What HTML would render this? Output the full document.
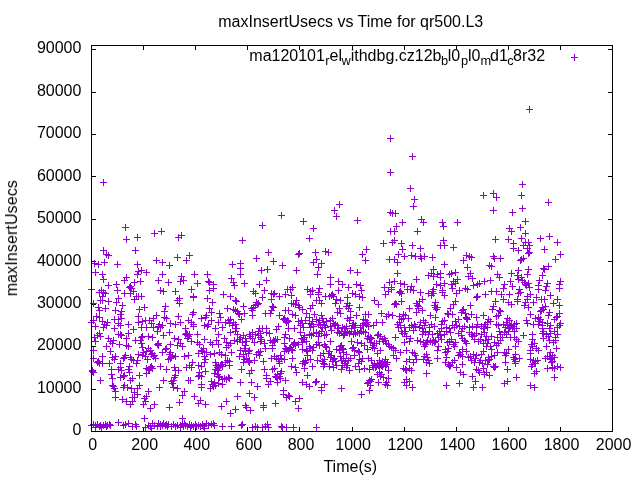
<!DOCTYPE html>
<html><head><meta charset="utf-8"><title>maxInsertUsecs vs Time for qr500.L3</title>
<style>
html,body{margin:0;padding:0;background:#fff;}
svg{display:block;}
text{font-family:"Liberation Sans",sans-serif;font-size:16px;fill:#000;}
</style></head><body>
<svg width="640" height="480" viewBox="0 0 640 480">
<rect x="0" y="0" width="640" height="480" fill="#fff"/>
<g id="labels" style="opacity:0.999">
<text x="350.75" y="27" text-anchor="middle">maxInsertUsecs vs Time for qr500.L3</text>
<text x="350.25" y="472" text-anchor="middle">Time(s)</text>
<text transform="translate(17,238.25) rotate(-90)" text-anchor="middle" textLength="116.2" lengthAdjust="spacing">maxInsertUsecs</text>
<text><tspan x="249.3" y="61">ma120101</tspan><tspan x="325.2" y="65.4" font-size="12.8">r</tspan><tspan x="329.5" y="61">el</tspan><tspan x="341.45" y="65.4" font-size="12.8">w</tspan><tspan x="350.7" y="61">ithdbg.cz12b</tspan><tspan x="440.9" y="65.4" font-size="12.8">b</tspan><tspan x="447.8" y="61">l0</tspan><tspan x="461.0" y="65.4" font-size="12.8">p</tspan><tspan x="467.9" y="61">l0</tspan><tspan x="480.6" y="65.4" font-size="12.8">m</tspan><tspan x="490.0" y="61">d1</tspan><tspan x="507.3" y="65.4" font-size="12.8">c</tspan><tspan x="513.0" y="61">8r32</tspan></text>
<text x="92.6" y="450.25" text-anchor="middle">0</text><text x="144.7" y="450.25" text-anchor="middle">200</text><text x="196.8" y="450.25" text-anchor="middle">400</text><text x="248.9" y="450.25" text-anchor="middle">600</text><text x="301.0" y="450.25" text-anchor="middle">800</text><text x="353.1" y="450.25" text-anchor="middle">1000</text><text x="405.2" y="450.25" text-anchor="middle">1200</text><text x="457.3" y="450.25" text-anchor="middle">1400</text><text x="509.4" y="450.25" text-anchor="middle">1600</text><text x="561.5" y="450.25" text-anchor="middle">1800</text><text x="613.6" y="450.25" text-anchor="middle">2000</text>
<text x="81.4" y="435.2" text-anchor="end">0</text><text x="81.4" y="392.8" text-anchor="end">10000</text><text x="81.4" y="350.4" text-anchor="end">20000</text><text x="81.4" y="307.9" text-anchor="end">30000</text><text x="81.4" y="265.5" text-anchor="end">40000</text><text x="81.4" y="223.1" text-anchor="end">50000</text><text x="81.4" y="180.6" text-anchor="end">60000</text><text x="81.4" y="138.2" text-anchor="end">70000</text><text x="81.4" y="95.7" text-anchor="end">80000</text><text x="81.4" y="53.3" text-anchor="end">90000</text>
</g>
<path d="M91.5 432v-5M91.5 45v5M143.5 432v-5M143.5 45v5M195.5 432v-5M195.5 45v5M247.5 432v-5M247.5 45v5M299.5 432v-5M299.5 45v5M352.5 432v-5M352.5 45v5M404.5 432v-5M404.5 45v5M456.5 432v-5M456.5 45v5M508.5 432v-5M508.5 45v5M560.5 432v-5M560.5 45v5M612.5 432v-5M612.5 45v5M91 431.5h5M613 431.5h-5M91 389.5h5M613 389.5h-5M91 346.5h5M613 346.5h-5M91 304.5h5M613 304.5h-5M91 261.5h5M613 261.5h-5M91 219.5h5M613 219.5h-5M91 176.5h5M613 176.5h-5M91 134.5h5M613 134.5h-5M91 92.5h5M613 92.5h-5M91 49.5h5M613 49.5h-5" stroke="#000" stroke-width="1" fill="none" shape-rendering="crispEdges"/>
<path id="pts" d="M571 57.5h7M574.5 54v7M100 182.5h7M103.5 179v7M122 227.5h7M125.5 224v7M123 239.5h7M126.5 236v7M134 237.5h7M137.5 234v7M151 233.5h7M154.5 230v7M158 231.5h7M161.5 228v7M175 237.5h7M178.5 234v7M178 235.5h7M181.5 232v7M239 240.5h7M242.5 237v7M100 250.5h7M103.5 247v7M103 254.5h7M106.5 251v7M105 255.5h7M108.5 252v7M132 250.5h7M135.5 247v7M174 257.5h7M177.5 254v7M186 255.5h7M189.5 252v7M183 260.5h7M186.5 257v7M91 263.5h7M94.5 260v7M95 264.5h7M98.5 261v7M101 262.5h7M104.5 259v7M114 264.5h7M117.5 261v7M134 264.5h7M137.5 261v7M153 260.5h7M156.5 257v7M159 262.5h7M162.5 259v7M166 265.5h7M169.5 262v7M229 264.5h7M232.5 261v7M237 263.5h7M240.5 260v7M237 268.5h7M240.5 265v7M387 138.5h7M390.5 135v7M387 172.5h7M390.5 169v7M526 109.5h7M529.5 106v7M409 156.5h7M412.5 153v7M336 204.5h7M339.5 201v7M331 210.5h7M334.5 207v7M333 216.5h7M336.5 213v7M278 215.5h7M281.5 212v7M300 221.5h7M303.5 218v7M354 220.5h7M357.5 217v7M259 225.5h7M262.5 222v7M310 228.5h7M313.5 225v7M306 238.5h7M309.5 235v7M387 212.5h7M390.5 209v7M389 213.5h7M392.5 210v7M392 213.5h7M395.5 210v7M399 222.5h7M402.5 219v7M393 226.5h7M396.5 223v7M387 231.5h7M390.5 228v7M391 231.5h7M394.5 228v7M380 243.5h7M383.5 240v7M389 242.5h7M392.5 239v7M391 240.5h7M394.5 237v7M398 243.5h7M401.5 240v7M399 249.5h7M402.5 246v7M363 249.5h7M366.5 246v7M359 254.5h7M362.5 251v7M362 260.5h7M365.5 257v7M265 252.5h7M268.5 249v7M253 258.5h7M256.5 255v7M270 261.5h7M273.5 258v7M279 265.5h7M282.5 262v7M295 254.5h7M298.5 251v7M296 253.5h7M299.5 250v7M312 252.5h7M315.5 249v7M322 251.5h7M325.5 248v7M325 252.5h7M328.5 249v7M313 259.5h7M316.5 256v7M310 262.5h7M313.5 259v7M318 263.5h7M321.5 260v7M315 267.5h7M318.5 264v7M395 254.5h7M398.5 251v7M401 256.5h7M404.5 253v7M386 259.5h7M389.5 256v7M391 259.5h7M394.5 256v7M394 262.5h7M397.5 259v7M264 269.5h7M267.5 266v7M407 188.5h7M410.5 185v7M411 199.5h7M414.5 196v7M410 206.5h7M413.5 203v7M519 184.5h7M522.5 181v7M480 195.5h7M483.5 192v7M490 193.5h7M493.5 190v7M493 197.5h7M496.5 194v7M518 195.5h7M521.5 192v7M545 202.5h7M548.5 199v7M490 210.5h7M493.5 207v7M519 208.5h7M522.5 205v7M509 212.5h7M512.5 209v7M418 219.5h7M421.5 216v7M420 222.5h7M423.5 219v7M439 222.5h7M442.5 219v7M440 226.5h7M443.5 223v7M454 222.5h7M457.5 219v7M414 231.5h7M417.5 228v7M522 221.5h7M525.5 218v7M506 228.5h7M509.5 225v7M508 231.5h7M511.5 228v7M517 227.5h7M520.5 224v7M522 233.5h7M525.5 230v7M409 245.5h7M412.5 242v7M417 248.5h7M420.5 245v7M440 240.5h7M443.5 237v7M437 245.5h7M440.5 242v7M441 245.5h7M444.5 242v7M450 247.5h7M453.5 244v7M408 255.5h7M411.5 252v7M412 256.5h7M415.5 253v7M417 256.5h7M420.5 253v7M418 258.5h7M421.5 255v7M421 256.5h7M424.5 253v7M429 257.5h7M432.5 254v7M463 255.5h7M466.5 252v7M466 256.5h7M469.5 253v7M468 257.5h7M471.5 254v7M460 260.5h7M463.5 257v7M441 264.5h7M444.5 261v7M464 267.5h7M467.5 264v7M430 269.5h7M433.5 266v7M492 239.5h7M495.5 236v7M505 239.5h7M508.5 236v7M518 238.5h7M521.5 235v7M537 238.5h7M540.5 235v7M546 236.5h7M549.5 233v7M554 242.5h7M557.5 239v7M510 243.5h7M513.5 240v7M522 242.5h7M525.5 239v7M525 242.5h7M528.5 239v7M520 245.5h7M523.5 242v7M526 245.5h7M529.5 242v7M524 248.5h7M527.5 245v7M510 248.5h7M513.5 245v7M515 250.5h7M518.5 247v7M541 249.5h7M544.5 246v7M525 253.5h7M528.5 250v7M526 252.5h7M529.5 249v7M557 254.5h7M560.5 251v7M490 256.5h7M493.5 253v7M491 258.5h7M494.5 255v7M497 258.5h7M500.5 255v7M552 259.5h7M555.5 256v7M520 258.5h7M523.5 255v7M518 259.5h7M521.5 256v7M517 260.5h7M520.5 257v7M486 265.5h7M489.5 262v7M488 266.5h7M491.5 263v7M545 266.5h7M548.5 263v7M540 268.5h7M543.5 265v7M541 269.5h7M544.5 266v7M525 269.5h7M528.5 266v7M92 272.5h7M95.5 269v7M99 274.5h7M102.5 271v7M135 271.5h7M138.5 268v7M138 270.5h7M141.5 267v7M143 272.5h7M146.5 269v7M134 274.5h7M137.5 271v7M159 274.5h7M162.5 271v7M165 282.5h7M168.5 279v7M100 279.5h7M103.5 276v7M123 277.5h7M126.5 274v7M121 280.5h7M124.5 277v7M131 282.5h7M134.5 279v7M137 281.5h7M140.5 278v7M155 280.5h7M158.5 277v7M105 285.5h7M108.5 282v7M113 284.5h7M116.5 281v7M127 286.5h7M130.5 283v7M126 287.5h7M129.5 284v7M128 288.5h7M131.5 285v7M88 289.5h7M91.5 286v7M114 290.5h7M117.5 287v7M98 290.5h7M101.5 287v7M96 292.5h7M99.5 289v7M100 292.5h7M103.5 289v7M102 293.5h7M105.5 290v7M121 293.5h7M124.5 290v7M130 291.5h7M133.5 288v7M127 293.5h7M130.5 290v7M157 290.5h7M160.5 287v7M160 291.5h7M163.5 288v7M133 296.5h7M136.5 293v7M135 296.5h7M138.5 293v7M138 296.5h7M141.5 293v7M131 299.5h7M134.5 296v7M99 296.5h7M102.5 293v7M115 298.5h7M118.5 295v7M97 300.5h7M100.5 297v7M99 300.5h7M102.5 297v7M105 301.5h7M108.5 298v7M113 302.5h7M116.5 299v7M90 303.5h7M93.5 300v7M119 305.5h7M122.5 302v7M95 307.5h7M98.5 304v7M102 308.5h7M105.5 305v7M141 307.5h7M144.5 304v7M136 309.5h7M139.5 306v7M162 306.5h7M165.5 303v7M112 310.5h7M115.5 307v7M96 310.5h7M99.5 307v7M118 311.5h7M121.5 308v7M161 311.5h7M164.5 308v7M117 314.5h7M120.5 311v7M93 316.5h7M96.5 313v7M96 317.5h7M99.5 314v7M153 315.5h7M156.5 312v7M135 316.5h7M138.5 313v7M150 318.5h7M153.5 315v7M161 317.5h7M164.5 314v7M163 318.5h7M166.5 315v7M118 318.5h7M121.5 315v7M111 319.5h7M114.5 316v7M115 319.5h7M118.5 316v7M90 320.5h7M93.5 317v7M142 320.5h7M145.5 317v7M146 320.5h7M149.5 317v7M139 321.5h7M142.5 318v7M135 322.5h7M138.5 319v7M99 321.5h7M102.5 318v7M104 322.5h7M107.5 319v7M88 322.5h7M91.5 319v7M92 326.5h7M95.5 323v7M101 324.5h7M104.5 321v7M103 325.5h7M106.5 322v7M100 327.5h7M103.5 324v7M115 323.5h7M118.5 320v7M117 325.5h7M120.5 322v7M125 324.5h7M128.5 321v7M111 328.5h7M114.5 325v7M148 323.5h7M151.5 320v7M156 324.5h7M159.5 321v7M155 326.5h7M158.5 323v7M157 327.5h7M160.5 324v7M159 325.5h7M162.5 322v7M143 327.5h7M146.5 324v7M138 327.5h7M141.5 324v7M150 327.5h7M153.5 324v7M130 329.5h7M133.5 326v7M178 276.5h7M181.5 273v7M191 274.5h7M194.5 271v7M204 274.5h7M207.5 271v7M237 274.5h7M240.5 271v7M228 278.5h7M231.5 275v7M180 280.5h7M183.5 277v7M177 281.5h7M180.5 278v7M194 283.5h7M197.5 280v7M205 281.5h7M208.5 278v7M206 282.5h7M209.5 279v7M210 284.5h7M213.5 281v7M241 283.5h7M244.5 280v7M230 282.5h7M233.5 279v7M231 285.5h7M234.5 282v7M172 291.5h7M175.5 288v7M188 289.5h7M191.5 286v7M210 288.5h7M213.5 285v7M206 290.5h7M209.5 287v7M220 294.5h7M223.5 291v7M190 296.5h7M193.5 293v7M190 297.5h7M193.5 294v7M176 298.5h7M179.5 295v7M174 300.5h7M177.5 297v7M176 303.5h7M179.5 300v7M204 298.5h7M207.5 295v7M227 296.5h7M230.5 293v7M209 302.5h7M212.5 299v7M232 300.5h7M235.5 297v7M233 301.5h7M236.5 298v7M206 308.5h7M209.5 305v7M224 308.5h7M227.5 305v7M240 306.5h7M243.5 303v7M230 309.5h7M233.5 306v7M232 310.5h7M235.5 307v7M234 311.5h7M237.5 308v7M190 312.5h7M193.5 309v7M189 314.5h7M192.5 311v7M208 312.5h7M211.5 309v7M216 313.5h7M219.5 310v7M175 316.5h7M178.5 313v7M203 315.5h7M206.5 312v7M202 317.5h7M205.5 314v7M198 318.5h7M201.5 315v7M217 317.5h7M220.5 314v7M236 314.5h7M239.5 311v7M241 313.5h7M244.5 310v7M235 313.5h7M238.5 310v7M208 320.5h7M211.5 317v7M238 319.5h7M241.5 316v7M227 319.5h7M230.5 316v7M225 320.5h7M228.5 317v7M185 320.5h7M188.5 317v7M167 323.5h7M170.5 320v7M172 324.5h7M175.5 321v7M177 322.5h7M180.5 319v7M188 322.5h7M191.5 319v7M190 324.5h7M193.5 321v7M190 326.5h7M193.5 323v7M182 328.5h7M185.5 325v7M201 325.5h7M204.5 322v7M205 324.5h7M208.5 321v7M204 326.5h7M207.5 323v7M215 322.5h7M218.5 319v7M222 322.5h7M225.5 319v7M226 323.5h7M229.5 320v7M230 322.5h7M233.5 319v7M229 325.5h7M232.5 322v7M232 324.5h7M235.5 321v7M219 327.5h7M222.5 324v7M233 328.5h7M236.5 325v7M212 328.5h7M215.5 325v7M258 270.5h7M261.5 267v7M293 270.5h7M296.5 267v7M314 274.5h7M317.5 271v7M263 280.5h7M266.5 277v7M256 284.5h7M259.5 281v7M250 291.5h7M253.5 288v7M261 290.5h7M264.5 287v7M252 293.5h7M255.5 290v7M268 293.5h7M271.5 290v7M270 294.5h7M273.5 291v7M271 293.5h7M274.5 290v7M289 287.5h7M292.5 284v7M284 289.5h7M287.5 286v7M287 289.5h7M290.5 286v7M288 295.5h7M291.5 292v7M282 294.5h7M285.5 291v7M304 289.5h7M307.5 286v7M307 291.5h7M310.5 288v7M309 290.5h7M312.5 287v7M316 288.5h7M319.5 285v7M315 292.5h7M318.5 289v7M307 294.5h7M310.5 291v7M315 294.5h7M318.5 291v7M322 296.5h7M325.5 293v7M259 297.5h7M262.5 294v7M276 296.5h7M279.5 293v7M268 299.5h7M271.5 296v7M253 302.5h7M256.5 299v7M254 304.5h7M257.5 301v7M293 300.5h7M296.5 297v7M288 303.5h7M291.5 300v7M290 303.5h7M293.5 300v7M292 304.5h7M295.5 301v7M295 305.5h7M298.5 302v7M316 300.5h7M319.5 297v7M313 300.5h7M316.5 297v7M318 303.5h7M321.5 300v7M309 305.5h7M312.5 302v7M269 306.5h7M272.5 303v7M270 307.5h7M273.5 304v7M250 307.5h7M253.5 304v7M249 310.5h7M252.5 307v7M268 310.5h7M271.5 307v7M282 310.5h7M285.5 307v7M285 310.5h7M288.5 307v7M296 307.5h7M299.5 304v7M299 309.5h7M302.5 306v7M307 308.5h7M310.5 305v7M262 313.5h7M265.5 310v7M267 313.5h7M270.5 310v7M249 315.5h7M252.5 312v7M276 315.5h7M279.5 312v7M289 314.5h7M292.5 311v7M292 315.5h7M295.5 312v7M303 313.5h7M306.5 310v7M311 314.5h7M314.5 311v7M318 315.5h7M321.5 312v7M306 317.5h7M309.5 314v7M280 319.5h7M283.5 316v7M282 320.5h7M285.5 317v7M285 321.5h7M288.5 318v7M295 321.5h7M298.5 318v7M298 320.5h7M301.5 317v7M299 323.5h7M302.5 320v7M313 319.5h7M316.5 316v7M316 320.5h7M319.5 317v7M319 318.5h7M322.5 315v7M320 322.5h7M323.5 319v7M306 323.5h7M309.5 320v7M308 324.5h7M311.5 321v7M310 326.5h7M313.5 323v7M275 326.5h7M278.5 323v7M256 328.5h7M259.5 325v7M263 328.5h7M266.5 325v7M285 328.5h7M288.5 325v7M291 328.5h7M294.5 325v7M300 327.5h7M303.5 324v7M317 325.5h7M320.5 322v7M273 329.5h7M276.5 326v7M322 327.5h7M325.5 324v7M347 270.5h7M350.5 267v7M354 272.5h7M357.5 269v7M394 273.5h7M397.5 270v7M327 277.5h7M330.5 274v7M335 281.5h7M338.5 278v7M339 284.5h7M342.5 281v7M353 284.5h7M356.5 281v7M357 285.5h7M360.5 282v7M386 282.5h7M389.5 279v7M391 281.5h7M394.5 278v7M397 283.5h7M400.5 280v7M401 284.5h7M404.5 281v7M327 284.5h7M330.5 281v7M345 287.5h7M348.5 284v7M381 287.5h7M384.5 284v7M388 287.5h7M391.5 284v7M335 290.5h7M338.5 287v7M358 290.5h7M361.5 287v7M349 293.5h7M352.5 290v7M352 294.5h7M355.5 291v7M329 294.5h7M332.5 291v7M326 296.5h7M329.5 293v7M385 291.5h7M388.5 288v7M388 289.5h7M391.5 286v7M382 294.5h7M385.5 291v7M397 291.5h7M400.5 288v7M398 293.5h7M401.5 290v7M396 292.5h7M399.5 289v7M404 289.5h7M407.5 286v7M344 297.5h7M347.5 294v7M356 296.5h7M359.5 293v7M359 297.5h7M362.5 294v7M333 299.5h7M336.5 296v7M337 300.5h7M340.5 297v7M332 303.5h7M335.5 300v7M371 300.5h7M374.5 297v7M375 304.5h7M378.5 301v7M398 301.5h7M401.5 298v7M392 303.5h7M395.5 300v7M393 304.5h7M396.5 301v7M391 304.5h7M394.5 301v7M344 303.5h7M347.5 300v7M343 306.5h7M346.5 303v7M345 308.5h7M348.5 305v7M356 307.5h7M359.5 304v7M336 308.5h7M339.5 305v7M334 312.5h7M337.5 309v7M337 313.5h7M340.5 310v7M347 311.5h7M350.5 308v7M365 314.5h7M368.5 311v7M362 314.5h7M365.5 311v7M378 313.5h7M381.5 310v7M353 315.5h7M356.5 312v7M385 314.5h7M388.5 311v7M389 315.5h7M392.5 312v7M383 316.5h7M386.5 313v7M396 316.5h7M399.5 313v7M402 315.5h7M405.5 312v7M400 318.5h7M403.5 315v7M329 318.5h7M332.5 315v7M327 320.5h7M330.5 317v7M344 318.5h7M347.5 315v7M346 320.5h7M349.5 317v7M360 319.5h7M363.5 316v7M362 320.5h7M365.5 317v7M373 322.5h7M376.5 319v7M379 322.5h7M382.5 319v7M330 323.5h7M333.5 320v7M332 324.5h7M335.5 321v7M334 325.5h7M337.5 322v7M327 326.5h7M330.5 323v7M343 326.5h7M346.5 323v7M350 323.5h7M353.5 320v7M352 325.5h7M355.5 322v7M360 323.5h7M363.5 320v7M363 324.5h7M366.5 321v7M365 326.5h7M368.5 323v7M357 327.5h7M360.5 324v7M370 325.5h7M373.5 322v7M394 324.5h7M397.5 321v7M396 322.5h7M399.5 319v7M395 327.5h7M398.5 324v7M401 327.5h7M404.5 324v7M348 328.5h7M351.5 325v7M341 328.5h7M344.5 325v7M425 275.5h7M428.5 272v7M428 273.5h7M431.5 270v7M430 276.5h7M433.5 273v7M434 274.5h7M437.5 271v7M437 273.5h7M440.5 270v7M437 277.5h7M440.5 274v7M446 274.5h7M449.5 271v7M448 273.5h7M451.5 270v7M452 272.5h7M455.5 269v7M467 273.5h7M470.5 270v7M465 276.5h7M468.5 273v7M469 278.5h7M472.5 275v7M413 279.5h7M416.5 276v7M454 279.5h7M457.5 276v7M450 281.5h7M453.5 278v7M448 284.5h7M451.5 281v7M452 283.5h7M455.5 280v7M441 283.5h7M444.5 280v7M433 284.5h7M436.5 281v7M437 285.5h7M440.5 282v7M408 286.5h7M411.5 283v7M470 285.5h7M473.5 282v7M474 284.5h7M477.5 281v7M476 283.5h7M479.5 280v7M481 281.5h7M484.5 278v7M449 288.5h7M452.5 285v7M462 288.5h7M465.5 285v7M464 289.5h7M467.5 286v7M407 289.5h7M410.5 286v7M410 290.5h7M413.5 287v7M417 292.5h7M420.5 289v7M430 289.5h7M433.5 286v7M425 293.5h7M428.5 290v7M428 295.5h7M431.5 292v7M430 293.5h7M433.5 290v7M439 290.5h7M442.5 287v7M439 292.5h7M442.5 289v7M441 295.5h7M444.5 292v7M453 293.5h7M456.5 290v7M456 290.5h7M459.5 287v7M482 294.5h7M485.5 291v7M473 297.5h7M476.5 294v7M474 296.5h7M477.5 293v7M419 299.5h7M422.5 296v7M416 301.5h7M419.5 298v7M413 303.5h7M416.5 300v7M414 305.5h7M417.5 302v7M432 302.5h7M435.5 299v7M431 305.5h7M434.5 302v7M452 301.5h7M455.5 298v7M450 304.5h7M453.5 301v7M467 305.5h7M470.5 302v7M434 307.5h7M437.5 304v7M433 309.5h7M436.5 306v7M406 308.5h7M409.5 305v7M415 308.5h7M418.5 305v7M419 310.5h7M422.5 307v7M413 312.5h7M416.5 309v7M447 308.5h7M450.5 305v7M460 309.5h7M463.5 306v7M458 312.5h7M461.5 309v7M462 313.5h7M465.5 310v7M445 314.5h7M448.5 311v7M449 314.5h7M452.5 311v7M427 315.5h7M430.5 312v7M432 317.5h7M435.5 314v7M468 314.5h7M471.5 311v7M473 317.5h7M476.5 314v7M480 315.5h7M483.5 312v7M463 317.5h7M466.5 314v7M464 319.5h7M467.5 316v7M405 318.5h7M408.5 315v7M455 319.5h7M458.5 316v7M452 321.5h7M455.5 318v7M420 320.5h7M423.5 317v7M422 322.5h7M425.5 319v7M417 322.5h7M420.5 319v7M439 321.5h7M442.5 318v7M441 320.5h7M444.5 317v7M438 324.5h7M441.5 321v7M408 325.5h7M411.5 322v7M412 326.5h7M415.5 323v7M411 324.5h7M414.5 321v7M416 327.5h7M419.5 324v7M421 325.5h7M424.5 322v7M428 324.5h7M431.5 321v7M426 327.5h7M429.5 324v7M443 327.5h7M446.5 324v7M438 328.5h7M441.5 325v7M449 325.5h7M452.5 322v7M451 327.5h7M454.5 324v7M456 326.5h7M459.5 323v7M459 328.5h7M462.5 325v7M474 324.5h7M477.5 321v7M466 327.5h7M469.5 324v7M473 327.5h7M476.5 324v7M478 326.5h7M481.5 323v7M482 324.5h7M485.5 321v7M480 328.5h7M483.5 325v7M484 322.5h7M487.5 319v7M494 274.5h7M497.5 271v7M496 277.5h7M499.5 274v7M508 273.5h7M511.5 270v7M515 270.5h7M518.5 267v7M514 275.5h7M517.5 272v7M518 277.5h7M521.5 274v7M524 274.5h7M527.5 271v7M539 275.5h7M542.5 272v7M487 280.5h7M490.5 277v7M507 281.5h7M510.5 278v7M515 279.5h7M518.5 276v7M501 284.5h7M504.5 281v7M509 286.5h7M512.5 283v7M521 282.5h7M524.5 279v7M525 283.5h7M528.5 280v7M523 285.5h7M526.5 282v7M536 280.5h7M539.5 277v7M535 285.5h7M538.5 282v7M544 283.5h7M547.5 280v7M543 286.5h7M546.5 283v7M557 281.5h7M560.5 278v7M556 284.5h7M559.5 281v7M556 288.5h7M559.5 285v7M500 288.5h7M503.5 285v7M488 291.5h7M491.5 288v7M493 291.5h7M496.5 288v7M498 294.5h7M501.5 291v7M506 294.5h7M509.5 291v7M516 289.5h7M519.5 286v7M515 293.5h7M518.5 290v7M517 292.5h7M520.5 289v7M526 287.5h7M529.5 284v7M535 289.5h7M538.5 286v7M542 290.5h7M545.5 287v7M527 294.5h7M530.5 291v7M524 296.5h7M527.5 293v7M547 295.5h7M550.5 292v7M533 297.5h7M536.5 294v7M500 299.5h7M503.5 296v7M492 301.5h7M495.5 298v7M505 302.5h7M508.5 299v7M508 304.5h7M511.5 301v7M514 299.5h7M517.5 296v7M514 301.5h7M517.5 298v7M524 299.5h7M527.5 296v7M522 302.5h7M525.5 299v7M521 305.5h7M524.5 302v7M530 302.5h7M533.5 299v7M538 299.5h7M541.5 296v7M541 299.5h7M544.5 296v7M554 299.5h7M557.5 296v7M550 303.5h7M553.5 300v7M556 305.5h7M559.5 302v7M542 306.5h7M545.5 303v7M490 306.5h7M493.5 303v7M489 309.5h7M492.5 306v7M496 310.5h7M499.5 307v7M497 311.5h7M500.5 308v7M525 307.5h7M528.5 304v7M540 309.5h7M543.5 306v7M537 311.5h7M540.5 308v7M527 314.5h7M530.5 311v7M495 315.5h7M498.5 312v7M546 312.5h7M549.5 309v7M545 315.5h7M548.5 312v7M556 313.5h7M559.5 310v7M554 316.5h7M557.5 313v7M493 316.5h7M496.5 313v7M504 318.5h7M507.5 315v7M506 320.5h7M509.5 317v7M487 321.5h7M490.5 318v7M535 317.5h7M538.5 314v7M532 318.5h7M535.5 315v7M537 319.5h7M540.5 316v7M536 321.5h7M539.5 318v7M523 320.5h7M526.5 317v7M551 319.5h7M554.5 316v7M553 317.5h7M556.5 314v7M513 323.5h7M516.5 320v7M503 322.5h7M506.5 319v7M493 324.5h7M496.5 321v7M495 325.5h7M498.5 322v7M500 324.5h7M503.5 321v7M504 325.5h7M507.5 322v7M508 324.5h7M511.5 321v7M510 326.5h7M513.5 323v7M502 327.5h7M505.5 324v7M506 328.5h7M509.5 325v7M524 323.5h7M527.5 320v7M530 324.5h7M533.5 321v7M535 324.5h7M538.5 321v7M539 325.5h7M542.5 322v7M544 323.5h7M547.5 320v7M547 325.5h7M550.5 322v7M556 325.5h7M559.5 322v7M546 328.5h7M549.5 325v7M539 328.5h7M542.5 325v7M513 328.5h7M516.5 325v7M96 333.5h7M99.5 330v7M94 335.5h7M97.5 332v7M91 337.5h7M94.5 334v7M115 334.5h7M118.5 331v7M118 335.5h7M121.5 332v7M125 333.5h7M128.5 330v7M123 338.5h7M126.5 335v7M139 336.5h7M142.5 333v7M145 336.5h7M148.5 333v7M149 337.5h7M152.5 334v7M154 331.5h7M157.5 328v7M160 335.5h7M163.5 332v7M105 338.5h7M108.5 335v7M92 341.5h7M95.5 338v7M107 341.5h7M110.5 338v7M109 343.5h7M112.5 340v7M103 346.5h7M106.5 343v7M116 344.5h7M119.5 341v7M123 345.5h7M126.5 342v7M125 346.5h7M128.5 343v7M132 340.5h7M135.5 337v7M137 340.5h7M140.5 337v7M138 343.5h7M141.5 340v7M139 347.5h7M142.5 344v7M155 343.5h7M158.5 340v7M155 345.5h7M158.5 342v7M163 348.5h7M166.5 345v7M145 348.5h7M148.5 345v7M90 350.5h7M93.5 347v7M107 351.5h7M110.5 348v7M99 356.5h7M102.5 353v7M143 351.5h7M146.5 348v7M147 350.5h7M150.5 347v7M149 353.5h7M152.5 350v7M151 355.5h7M154.5 352v7M159 352.5h7M162.5 349v7M135 354.5h7M138.5 351v7M139 355.5h7M142.5 352v7M142 356.5h7M145.5 353v7M122 355.5h7M125.5 352v7M127 357.5h7M130.5 354v7M90 358.5h7M93.5 355v7M109 357.5h7M112.5 354v7M111 359.5h7M114.5 356v7M120 358.5h7M123.5 355v7M130 360.5h7M133.5 357v7M134 360.5h7M137.5 357v7M144 359.5h7M147.5 356v7M152 358.5h7M155.5 355v7M94 362.5h7M97.5 359v7M96 363.5h7M99.5 360v7M99 363.5h7M102.5 360v7M106 363.5h7M109.5 360v7M117 363.5h7M120.5 360v7M133 363.5h7M136.5 360v7M117 367.5h7M120.5 364v7M126 366.5h7M129.5 363v7M125 369.5h7M128.5 366v7M115 369.5h7M118.5 366v7M108 369.5h7M111.5 366v7M89 370.5h7M92.5 367v7M90 372.5h7M93.5 369v7M143 368.5h7M146.5 365v7M148 366.5h7M151.5 363v7M149 368.5h7M152.5 365v7M146 370.5h7M149.5 367v7M157 366.5h7M160.5 363v7M163 369.5h7M166.5 366v7M126 372.5h7M129.5 369v7M108 374.5h7M111.5 371v7M121 375.5h7M124.5 372v7M117 377.5h7M120.5 374v7M109 378.5h7M112.5 375v7M97 380.5h7M100.5 377v7M129 378.5h7M132.5 375v7M127 380.5h7M130.5 377v7M136 375.5h7M139.5 372v7M143 373.5h7M146.5 370v7M160 380.5h7M163.5 377v7M109 385.5h7M112.5 382v7M111 388.5h7M114.5 385v7M120 387.5h7M123.5 384v7M124 387.5h7M127.5 384v7M121 385.5h7M124.5 382v7M136 385.5h7M139.5 382v7M134 388.5h7M137.5 385v7M156 387.5h7M159.5 384v7M128 388.5h7M131.5 385v7M166 332.5h7M169.5 329v7M182 334.5h7M185.5 331v7M184 335.5h7M187.5 332v7M186 334.5h7M189.5 331v7M194 334.5h7M197.5 331v7M184 338.5h7M187.5 335v7M171 338.5h7M174.5 335v7M175 339.5h7M178.5 336v7M215 334.5h7M218.5 331v7M227 332.5h7M230.5 329v7M232 331.5h7M235.5 328v7M234 334.5h7M237.5 331v7M221 338.5h7M224.5 335v7M201 339.5h7M204.5 336v7M237 337.5h7M240.5 334v7M242 338.5h7M245.5 335v7M167 344.5h7M170.5 341v7M174 345.5h7M177.5 342v7M177 343.5h7M180.5 340v7M179 346.5h7M182.5 343v7M188 341.5h7M191.5 338v7M194 342.5h7M197.5 339v7M196 344.5h7M199.5 341v7M207 342.5h7M210.5 339v7M209 344.5h7M212.5 341v7M215 344.5h7M218.5 341v7M213 340.5h7M216.5 337v7M223 342.5h7M226.5 339v7M227 343.5h7M230.5 340v7M231 340.5h7M234.5 337v7M234 341.5h7M237.5 338v7M239 342.5h7M242.5 339v7M242 345.5h7M245.5 342v7M200 348.5h7M203.5 345v7M223 347.5h7M226.5 344v7M167 352.5h7M170.5 349v7M169 355.5h7M172.5 352v7M172 356.5h7M175.5 353v7M181 356.5h7M184.5 353v7M185 355.5h7M188.5 352v7M195 353.5h7M198.5 350v7M199 351.5h7M202.5 348v7M203 352.5h7M206.5 349v7M207 354.5h7M210.5 351v7M211 353.5h7M214.5 350v7M216 352.5h7M219.5 349v7M218 354.5h7M221.5 351v7M222 355.5h7M225.5 352v7M228 352.5h7M231.5 349v7M237 350.5h7M240.5 347v7M241 348.5h7M244.5 345v7M240 354.5h7M243.5 351v7M236 356.5h7M239.5 353v7M243 358.5h7M246.5 355v7M167 358.5h7M170.5 355v7M189 362.5h7M192.5 359v7M201 356.5h7M204.5 353v7M202 359.5h7M205.5 356v7M201 362.5h7M204.5 359v7M222 362.5h7M225.5 359v7M226 361.5h7M229.5 358v7M212 362.5h7M215.5 359v7M240 362.5h7M243.5 359v7M219 364.5h7M222.5 361v7M171 367.5h7M174.5 364v7M172 370.5h7M175.5 367v7M175 370.5h7M178.5 367v7M183 367.5h7M186.5 364v7M186 365.5h7M189.5 362v7M188 367.5h7M191.5 364v7M195 365.5h7M198.5 362v7M198 366.5h7M201.5 363v7M213 365.5h7M216.5 362v7M216 367.5h7M219.5 364v7M219 366.5h7M222.5 363v7M226 365.5h7M229.5 362v7M238 369.5h7M241.5 366v7M215 370.5h7M218.5 367v7M212 369.5h7M215.5 366v7M202 371.5h7M205.5 368v7M196 372.5h7M199.5 369v7M211 373.5h7M214.5 370v7M172 375.5h7M175.5 372v7M171 377.5h7M174.5 374v7M170 380.5h7M173.5 377v7M195 376.5h7M198.5 373v7M198 376.5h7M201.5 373v7M185 380.5h7M188.5 377v7M187 380.5h7M190.5 377v7M214 374.5h7M217.5 371v7M216 377.5h7M219.5 374v7M221 378.5h7M224.5 375v7M225 377.5h7M228.5 374v7M219 379.5h7M222.5 376v7M208 381.5h7M211.5 378v7M211 382.5h7M214.5 379v7M237 382.5h7M240.5 379v7M169 383.5h7M172.5 380v7M170 387.5h7M173.5 384v7M174 388.5h7M177.5 385v7M198 384.5h7M201.5 381v7M198 387.5h7M201.5 384v7M209 384.5h7M212.5 381v7M212 385.5h7M215.5 382v7M215 383.5h7M218.5 380v7M219 384.5h7M222.5 381v7M207 388.5h7M210.5 385v7M249 332.5h7M252.5 329v7M252 334.5h7M255.5 331v7M257 333.5h7M260.5 330v7M255 331.5h7M258.5 328v7M263 332.5h7M266.5 329v7M266 333.5h7M269.5 330v7M247 336.5h7M250.5 333v7M257 337.5h7M260.5 334v7M282 334.5h7M285.5 331v7M281 337.5h7M284.5 334v7M286 338.5h7M289.5 335v7M297 332.5h7M300.5 329v7M301 335.5h7M304.5 332v7M306 334.5h7M309.5 331v7M310 333.5h7M313.5 330v7M313 332.5h7M316.5 329v7M318 331.5h7M321.5 328v7M321 335.5h7M324.5 332v7M315 336.5h7M318.5 333v7M298 338.5h7M301.5 335v7M251 342.5h7M254.5 339v7M257 341.5h7M260.5 338v7M261 343.5h7M264.5 340v7M267 340.5h7M270.5 337v7M271 341.5h7M274.5 338v7M274 339.5h7M277.5 336v7M269 345.5h7M272.5 342v7M281 343.5h7M284.5 340v7M291 343.5h7M294.5 340v7M292 345.5h7M295.5 342v7M295 344.5h7M298.5 341v7M299 342.5h7M302.5 339v7M303 341.5h7M306.5 338v7M316 345.5h7M319.5 342v7M321 344.5h7M324.5 341v7M323 347.5h7M326.5 344v7M306 346.5h7M309.5 343v7M246 350.5h7M249.5 347v7M245 353.5h7M248.5 350v7M256 355.5h7M259.5 352v7M257 351.5h7M260.5 348v7M262 348.5h7M265.5 345v7M269 348.5h7M272.5 345v7M283 349.5h7M286.5 346v7M286 348.5h7M289.5 345v7M289 350.5h7M292.5 347v7M281 351.5h7M284.5 348v7M299 349.5h7M302.5 346v7M303 350.5h7M306.5 347v7M307 348.5h7M310.5 345v7M309 350.5h7M312.5 347v7M304 355.5h7M307.5 352v7M317 355.5h7M320.5 352v7M320 353.5h7M323.5 350v7M246 360.5h7M249.5 357v7M251 360.5h7M254.5 357v7M260 361.5h7M263.5 358v7M268 358.5h7M271.5 355v7M271 356.5h7M274.5 353v7M277 355.5h7M280.5 352v7M275 359.5h7M278.5 356v7M278 358.5h7M281.5 355v7M281 359.5h7M284.5 356v7M276 363.5h7M279.5 360v7M289 358.5h7M292.5 355v7M302 360.5h7M305.5 357v7M301 363.5h7M304.5 360v7M307 359.5h7M310.5 356v7M314 360.5h7M317.5 357v7M321 359.5h7M324.5 356v7M320 363.5h7M323.5 360v7M248 370.5h7M251.5 367v7M261 369.5h7M264.5 366v7M269 369.5h7M272.5 366v7M271 368.5h7M274.5 365v7M288 366.5h7M291.5 363v7M292 367.5h7M295.5 364v7M293 372.5h7M296.5 369v7M301 368.5h7M304.5 365v7M309 366.5h7M312.5 363v7M320 366.5h7M323.5 363v7M278 371.5h7M281.5 368v7M263 375.5h7M266.5 372v7M274 374.5h7M277.5 371v7M304 375.5h7M307.5 372v7M246 373.5h7M249.5 370v7M273 377.5h7M276.5 374v7M276 376.5h7M279.5 373v7M277 378.5h7M280.5 375v7M282 380.5h7M285.5 377v7M263 378.5h7M266.5 375v7M267 381.5h7M270.5 378v7M248 382.5h7M251.5 379v7M274 382.5h7M277.5 379v7M299 382.5h7M302.5 379v7M312 382.5h7M315.5 379v7M254 386.5h7M257.5 383v7M265 384.5h7M268.5 381v7M303 384.5h7M306.5 381v7M306 386.5h7M309.5 383v7M321 384.5h7M324.5 381v7M318 387.5h7M321.5 384v7M328 330.5h7M331.5 327v7M334 332.5h7M337.5 329v7M338 331.5h7M341.5 328v7M341 334.5h7M344.5 331v7M344 332.5h7M347.5 329v7M348 331.5h7M351.5 328v7M350 334.5h7M353.5 331v7M354 332.5h7M357.5 329v7M358 331.5h7M361.5 328v7M362 332.5h7M365.5 329v7M365 336.5h7M368.5 333v7M368 338.5h7M371.5 335v7M375 334.5h7M378.5 331v7M377 336.5h7M380.5 333v7M381 338.5h7M384.5 335v7M392 337.5h7M395.5 334v7M398 331.5h7M401.5 328v7M401 333.5h7M404.5 330v7M403 336.5h7M406.5 333v7M327 341.5h7M330.5 338v7M348 341.5h7M351.5 338v7M354 342.5h7M357.5 339v7M358 343.5h7M361.5 340v7M361 345.5h7M364.5 342v7M367 342.5h7M370.5 339v7M370 345.5h7M373.5 342v7M373 343.5h7M376.5 340v7M376 341.5h7M379.5 338v7M380 341.5h7M383.5 338v7M383 343.5h7M386.5 340v7M386 346.5h7M389.5 343v7M401 342.5h7M404.5 339v7M337 346.5h7M340.5 343v7M339 348.5h7M342.5 345v7M350 347.5h7M353.5 344v7M326 351.5h7M329.5 348v7M328 355.5h7M331.5 352v7M333 349.5h7M336.5 346v7M336 350.5h7M339.5 347v7M340 352.5h7M343.5 349v7M343 354.5h7M346.5 351v7M337 356.5h7M340.5 353v7M351 350.5h7M354.5 347v7M355 351.5h7M358.5 348v7M351 355.5h7M354.5 352v7M364 349.5h7M367.5 346v7M371 348.5h7M374.5 345v7M377 350.5h7M380.5 347v7M374 353.5h7M377.5 350v7M390 348.5h7M393.5 345v7M392 350.5h7M395.5 347v7M397 352.5h7M400.5 349v7M403 350.5h7M406.5 347v7M390 355.5h7M393.5 352v7M393 358.5h7M396.5 355v7M330 359.5h7M333.5 356v7M332 361.5h7M335.5 358v7M338 360.5h7M341.5 357v7M342 361.5h7M345.5 358v7M347 358.5h7M350.5 355v7M356 359.5h7M359.5 356v7M358 361.5h7M361.5 358v7M355 363.5h7M358.5 360v7M365 358.5h7M368.5 355v7M368 360.5h7M371.5 357v7M376 360.5h7M379.5 357v7M379 361.5h7M382.5 358v7M382 359.5h7M385.5 356v7M384 362.5h7M387.5 359v7M403 361.5h7M406.5 358v7M326 366.5h7M329.5 363v7M330 367.5h7M333.5 364v7M333 365.5h7M336.5 362v7M338 369.5h7M341.5 366v7M344 365.5h7M347.5 362v7M346 370.5h7M349.5 367v7M352 366.5h7M355.5 363v7M356 369.5h7M359.5 366v7M361 368.5h7M364.5 365v7M366 369.5h7M369.5 366v7M369 365.5h7M372.5 362v7M372 367.5h7M375.5 364v7M375 365.5h7M378.5 362v7M379 366.5h7M382.5 363v7M382 366.5h7M385.5 363v7M376 372.5h7M379.5 369v7M385 370.5h7M388.5 367v7M400 368.5h7M403.5 365v7M403 370.5h7M406.5 367v7M374 374.5h7M377.5 371v7M377 376.5h7M380.5 373v7M380 377.5h7M383.5 374v7M385 378.5h7M388.5 375v7M366 380.5h7M369.5 377v7M368 379.5h7M371.5 376v7M375 382.5h7M378.5 379v7M403 379.5h7M406.5 376v7M401 382.5h7M404.5 379v7M364 383.5h7M367.5 380v7M367 385.5h7M370.5 382v7M382 384.5h7M385.5 381v7M384 385.5h7M387.5 382v7M403 385.5h7M406.5 382v7M338 388.5h7M341.5 385v7M410 330.5h7M413.5 327v7M407 338.5h7M410.5 335v7M419 334.5h7M422.5 331v7M422 332.5h7M425.5 329v7M425 334.5h7M428.5 331v7M434 333.5h7M437.5 330v7M437 335.5h7M440.5 332v7M441 334.5h7M444.5 331v7M447 332.5h7M450.5 329v7M455 333.5h7M458.5 330v7M458 331.5h7M461.5 328v7M466 332.5h7M469.5 329v7M469 336.5h7M472.5 333v7M473 333.5h7M476.5 330v7M478 334.5h7M481.5 331v7M481 332.5h7M484.5 329v7M483 336.5h7M486.5 333v7M459 338.5h7M462.5 335v7M406 341.5h7M409.5 338v7M414 340.5h7M417.5 337v7M417 341.5h7M420.5 338v7M423 342.5h7M426.5 339v7M427 341.5h7M430.5 338v7M430 340.5h7M433.5 337v7M431 342.5h7M434.5 339v7M438 339.5h7M441.5 336v7M446 341.5h7M449.5 338v7M452 342.5h7M455.5 339v7M461 340.5h7M464.5 337v7M463 343.5h7M466.5 340v7M471 339.5h7M474.5 336v7M475 341.5h7M478.5 338v7M480 343.5h7M483.5 340v7M483 346.5h7M486.5 343v7M421 346.5h7M424.5 343v7M435 346.5h7M438.5 343v7M451 346.5h7M454.5 343v7M409 352.5h7M412.5 349v7M412 355.5h7M415.5 352v7M423 354.5h7M426.5 351v7M434 350.5h7M437.5 347v7M442 349.5h7M445.5 346v7M444 351.5h7M447.5 348v7M445 348.5h7M448.5 345v7M456 352.5h7M459.5 349v7M459 349.5h7M462.5 346v7M463 351.5h7M466.5 348v7M470 354.5h7M473.5 351v7M473 355.5h7M476.5 352v7M480 351.5h7M483.5 348v7M478 354.5h7M481.5 351v7M455 355.5h7M458.5 352v7M459 356.5h7M462.5 353v7M406 359.5h7M409.5 356v7M410 362.5h7M413.5 359v7M413 359.5h7M416.5 356v7M420 359.5h7M423.5 356v7M424 357.5h7M427.5 354v7M425 360.5h7M428.5 357v7M423 362.5h7M426.5 359v7M426 363.5h7M429.5 360v7M434 358.5h7M437.5 355v7M443 357.5h7M446.5 354v7M442 362.5h7M445.5 359v7M451 360.5h7M454.5 357v7M449 362.5h7M452.5 359v7M465 357.5h7M468.5 354v7M468 360.5h7M471.5 357v7M471 362.5h7M474.5 359v7M477 360.5h7M480.5 357v7M479 363.5h7M482.5 360v7M482 360.5h7M485.5 357v7M445 364.5h7M448.5 361v7M446 366.5h7M449.5 363v7M453 367.5h7M456.5 364v7M459 364.5h7M462.5 361v7M408 370.5h7M411.5 367v7M406 368.5h7M409.5 365v7M423 373.5h7M426.5 370v7M457 372.5h7M460.5 369v7M460 374.5h7M463.5 371v7M473 369.5h7M476.5 366v7M476 372.5h7M479.5 369v7M480 368.5h7M483.5 365v7M481 374.5h7M484.5 371v7M469 376.5h7M472.5 373v7M406 381.5h7M409.5 378v7M472 381.5h7M475.5 378v7M456 383.5h7M459.5 380v7M443 385.5h7M446.5 382v7M409 387.5h7M412.5 384v7M470 387.5h7M473.5 384v7M479 387.5h7M482.5 384v7M488 336.5h7M491.5 333v7M485 339.5h7M488.5 336v7M496 331.5h7M499.5 328v7M501 332.5h7M504.5 329v7M505 331.5h7M508.5 328v7M511 331.5h7M514.5 328v7M499 337.5h7M502.5 334v7M507 337.5h7M510.5 334v7M520 335.5h7M523.5 332v7M529 334.5h7M532.5 331v7M529 339.5h7M532.5 336v7M540 331.5h7M543.5 328v7M543 334.5h7M546.5 331v7M547 333.5h7M550.5 330v7M551 331.5h7M554.5 328v7M554 334.5h7M557.5 331v7M540 338.5h7M543.5 335v7M546 340.5h7M549.5 337v7M552 340.5h7M555.5 337v7M515 341.5h7M518.5 338v7M491 342.5h7M494.5 339v7M497 340.5h7M500.5 337v7M493 345.5h7M496.5 342v7M487 346.5h7M490.5 343v7M488 349.5h7M491.5 346v7M512 346.5h7M515.5 343v7M531 343.5h7M534.5 340v7M529 346.5h7M532.5 343v7M533 348.5h7M536.5 345v7M543 346.5h7M546.5 343v7M553 348.5h7M556.5 345v7M535 350.5h7M538.5 347v7M505 349.5h7M508.5 346v7M494 352.5h7M497.5 349v7M491 355.5h7M494.5 352v7M501 352.5h7M504.5 349v7M503 353.5h7M506.5 350v7M502 355.5h7M505.5 352v7M512 354.5h7M515.5 351v7M510 357.5h7M513.5 354v7M527 353.5h7M530.5 350v7M547 352.5h7M550.5 349v7M485 357.5h7M488.5 354v7M486 359.5h7M489.5 356v7M502 362.5h7M505.5 359v7M511 359.5h7M514.5 356v7M516 358.5h7M519.5 355v7M512 363.5h7M515.5 360v7M527 359.5h7M530.5 356v7M532 361.5h7M535.5 358v7M534 360.5h7M537.5 357v7M531 363.5h7M534.5 360v7M544 356.5h7M547.5 353v7M548 358.5h7M551.5 355v7M551 357.5h7M554.5 354v7M549 361.5h7M552.5 358v7M542 358.5h7M545.5 355v7M490 366.5h7M493.5 363v7M491 367.5h7M494.5 364v7M504 369.5h7M507.5 366v7M528 366.5h7M531.5 363v7M533 371.5h7M536.5 368v7M531 373.5h7M534.5 370v7M544 368.5h7M547.5 365v7M551 368.5h7M554.5 365v7M554 366.5h7M557.5 363v7M557 367.5h7M560.5 364v7M486 375.5h7M489.5 372v7M513 377.5h7M516.5 374v7M551 377.5h7M554.5 374v7M504 381.5h7M507.5 378v7M501 383.5h7M504.5 380v7M527 385.5h7M530.5 382v7M531 387.5h7M534.5 384v7M112 391.5h7M115.5 388v7M145 391.5h7M148.5 388v7M131 392.5h7M134.5 389v7M134 394.5h7M137.5 391v7M112 397.5h7M115.5 394v7M119 399.5h7M122.5 396v7M129 397.5h7M132.5 394v7M131 397.5h7M134.5 394v7M123 401.5h7M126.5 398v7M127 404.5h7M130.5 401v7M129 401.5h7M132.5 398v7M143 396.5h7M146.5 393v7M141 398.5h7M144.5 395v7M142 401.5h7M145.5 398v7M140 404.5h7M143.5 401v7M151 404.5h7M154.5 401v7M147 408.5h7M150.5 405v7M141 418.5h7M144.5 415v7M115 422.5h7M118.5 419v7M88 425.5h7M91.5 422v7M90 424.5h7M93.5 421v7M92 425.5h7M95.5 422v7M94 424.5h7M97.5 421v7M96 426.5h7M99.5 423v7M97 425.5h7M100.5 422v7M100 425.5h7M103.5 422v7M102 424.5h7M105.5 421v7M103 426.5h7M106.5 423v7M104 425.5h7M107.5 422v7M106 424.5h7M109.5 421v7M107 425.5h7M110.5 422v7M120 425.5h7M123.5 422v7M122 424.5h7M125.5 421v7M125 423.5h7M128.5 420v7M129 426.5h7M132.5 423v7M132 424.5h7M135.5 421v7M133 426.5h7M136.5 423v7M142 427.5h7M145.5 424v7M145 425.5h7M148.5 422v7M147 426.5h7M150.5 423v7M151 425.5h7M154.5 422v7M154 426.5h7M157.5 423v7M157 424.5h7M160.5 421v7M159 425.5h7M162.5 422v7M160 423.5h7M163.5 420v7M162 425.5h7M165.5 422v7M163 424.5h7M166.5 421v7M164 426.5h7M167.5 423v7M181 391.5h7M184.5 388v7M179 395.5h7M182.5 392v7M191 396.5h7M194.5 393v7M197 400.5h7M200.5 397v7M195 403.5h7M198.5 400v7M202 404.5h7M205.5 401v7M176 402.5h7M179.5 399v7M166 407.5h7M169.5 404v7M223 401.5h7M226.5 398v7M218 406.5h7M221.5 403v7M234 396.5h7M237.5 393v7M232 409.5h7M235.5 406v7M227 413.5h7M230.5 410v7M242 405.5h7M245.5 402v7M243 407.5h7M246.5 404v7M179 418.5h7M182.5 415v7M168 426.5h7M171.5 423v7M170 424.5h7M173.5 421v7M172 426.5h7M175.5 423v7M174 425.5h7M177.5 422v7M177 425.5h7M180.5 422v7M179 424.5h7M182.5 421v7M180 426.5h7M183.5 423v7M182 425.5h7M185.5 422v7M184 426.5h7M187.5 423v7M186 424.5h7M189.5 421v7M188 425.5h7M191.5 422v7M190 426.5h7M193.5 423v7M192 424.5h7M195.5 421v7M193 426.5h7M196.5 423v7M195 425.5h7M198.5 422v7M197 426.5h7M200.5 423v7M199 424.5h7M202.5 421v7M200 426.5h7M203.5 423v7M205 425.5h7M208.5 422v7M208 424.5h7M211.5 421v7M210 423.5h7M213.5 420v7M211 425.5h7M214.5 422v7M219 426.5h7M222.5 423v7M228 426.5h7M231.5 423v7M238 425.5h7M241.5 422v7M239 424.5h7M242.5 421v7M246 393.5h7M249.5 390v7M251 397.5h7M254.5 394v7M280 390.5h7M283.5 387v7M280 394.5h7M283.5 391v7M283 397.5h7M286.5 394v7M285 395.5h7M288.5 392v7M286 396.5h7M289.5 393v7M296 398.5h7M299.5 395v7M292 401.5h7M295.5 398v7M295 408.5h7M298.5 405v7M272 403.5h7M275.5 400v7M260 405.5h7M263.5 402v7M260 407.5h7M263.5 404v7M247 410.5h7M250.5 407v7M318 390.5h7M321.5 387v7M249 427.5h7M252.5 424v7M252 426.5h7M255.5 423v7M254 427.5h7M257.5 424v7M259 427.5h7M262.5 424v7M262 426.5h7M265.5 423v7M265 427.5h7M268.5 424v7M264 424.5h7M267.5 421v7M278 426.5h7M281.5 423v7M279 427.5h7M282.5 424v7M283 427.5h7M286.5 424v7M290 427.5h7M293.5 424v7M313 427.5h7M316.5 424v7M358 394.5h7M361.5 391v7M366 390.5h7M369.5 387v7M183 333.5h7M186.5 330v7M185 336.5h7M188.5 333v7M184 334.5h7M187.5 331v7M240 335.5h7M243.5 332v7M243 341.5h7M246.5 338v7M236 339.5h7M239.5 336v7M225 345.5h7M228.5 342v7M198 350.5h7M201.5 347v7M242 351.5h7M245.5 348v7M241 359.5h7M244.5 356v7M166 354.5h7M169.5 351v7M168 357.5h7M171.5 354v7M165 359.5h7M168.5 356v7M215 366.5h7M218.5 363v7M217 365.5h7M220.5 362v7M214 367.5h7M217.5 364v7M218 364.5h7M221.5 361v7M224 360.5h7M227.5 357v7M215 376.5h7M218.5 373v7M226 378.5h7M229.5 375v7M223 379.5h7M226.5 376v7M210 386.5h7M213.5 383v7M211 383.5h7M214.5 380v7M168 381.5h7M171.5 378v7M196 375.5h7M199.5 372v7M246 334.5h7M249.5 331v7M255 335.5h7M258.5 332v7M258 339.5h7M261.5 336v7M249 338.5h7M252.5 335v7M270 340.5h7M273.5 337v7M272 339.5h7M275.5 336v7M269 342.5h7M272.5 339v7M282 348.5h7M285.5 345v7M285 350.5h7M288.5 347v7M287 347.5h7M290.5 344v7M288 349.5h7M291.5 346v7M291 342.5h7M294.5 339v7M290 344.5h7M293.5 341v7M300 339.5h7M303.5 336v7M301 337.5h7M304.5 334v7M310 347.5h7M313.5 344v7M304 351.5h7M307.5 348v7M315 342.5h7M318.5 339v7M313 344.5h7M316.5 341v7M322 346.5h7M325.5 343v7M308 335.5h7M311.5 332v7M316 333.5h7M319.5 330v7M323 334.5h7M326.5 331v7M245 351.5h7M248.5 348v7M246 362.5h7M249.5 359v7M245 361.5h7M248.5 358v7M255 352.5h7M258.5 349v7M253 354.5h7M256.5 351v7M300 361.5h7M303.5 358v7M302 362.5h7M305.5 359v7M299 363.5h7M302.5 360v7M319 361.5h7M322.5 358v7M321 364.5h7M324.5 361v7M277 373.5h7M280.5 370v7M272 376.5h7M275.5 373v7M273 358.5h7M276.5 355v7M276 361.5h7M279.5 358v7M313 381.5h7M316.5 378v7M97 336.5h7M100.5 333v7M110 340.5h7M113.5 337v7M117 334.5h7M120.5 331v7M138 337.5h7M141.5 334v7M154 344.5h7M157.5 341v7M162 349.5h7M165.5 346v7M148 354.5h7M151.5 351v7M150 356.5h7M153.5 353v7M140 352.5h7M143.5 349v7M112 356.5h7M115.5 353v7M95 361.5h7M98.5 358v7M121 357.5h7M124.5 354v7M128 359.5h7M131.5 356v7M118 370.5h7M121.5 367v7M89 371.5h7M92.5 368v7M147 367.5h7M150.5 364v7M145 369.5h7M148.5 366v7M120 376.5h7M123.5 373v7M110 386.5h7M113.5 383v7M336 333.5h7M339.5 330v7M342 331.5h7M345.5 328v7M346 333.5h7M349.5 330v7M352 333.5h7M355.5 330v7M340 335.5h7M343.5 332v7M356 333.5h7M359.5 330v7M360 331.5h7M363.5 328v7M374 335.5h7M377.5 332v7M379 339.5h7M382.5 336v7M382 340.5h7M385.5 337v7M366 339.5h7M369.5 336v7M364 338.5h7M367.5 335v7M367 337.5h7M370.5 334v7M371 343.5h7M374.5 340v7M369 347.5h7M372.5 344v7M338 345.5h7M341.5 342v7M340 349.5h7M343.5 346v7M349 348.5h7M352.5 345v7M356 352.5h7M359.5 349v7M325 353.5h7M328.5 350v7M327 357.5h7M330.5 354v7M331 358.5h7M334.5 355v7M329 361.5h7M332.5 358v7M340 358.5h7M343.5 355v7M341 363.5h7M344.5 360v7M345 360.5h7M348.5 357v7M343 367.5h7M346.5 364v7M339 365.5h7M342.5 362v7M359 358.5h7M362.5 355v7M371 363.5h7M374.5 360v7M374 364.5h7M377.5 361v7M377 363.5h7M380.5 360v7M380 364.5h7M383.5 361v7M373 366.5h7M376.5 363v7M376 367.5h7M379.5 364v7M381 362.5h7M384.5 359v7M370 367.5h7M373.5 364v7M378 365.5h7M381.5 362v7M383 364.5h7M386.5 361v7M378 374.5h7M381.5 371v7M367 381.5h7M370.5 378v7M365 382.5h7M368.5 379v7M383 382.5h7M386.5 379v7M402 369.5h7M405.5 366v7M399 333.5h7M402.5 330v7M402 331.5h7M405.5 328v7M388 347.5h7M391.5 344v7M385 344.5h7M388.5 341v7M420 331.5h7M423.5 328v7M426 331.5h7M429.5 328v7M429 334.5h7M432.5 331v7M436 331.5h7M439.5 328v7M435 337.5h7M438.5 334v7M443 331.5h7M446.5 328v7M420 342.5h7M423.5 339v7M424 340.5h7M427.5 337v7M429 342.5h7M432.5 339v7M422 344.5h7M425.5 341v7M432 341.5h7M435.5 338v7M445 348.5h7M448.5 345v7M442 352.5h7M445.5 349v7M448 339.5h7M451.5 336v7M444 342.5h7M447.5 339v7M450 344.5h7M453.5 341v7M462 341.5h7M465.5 338v7M458 335.5h7M461.5 332v7M468 334.5h7M471.5 331v7M471 335.5h7M474.5 332v7M477 339.5h7M480.5 336v7M482 340.5h7M485.5 337v7M484 343.5h7M487.5 340v7M457 354.5h7M460.5 351v7M467 356.5h7M470.5 353v7M472 358.5h7M475.5 355v7M476 362.5h7M479.5 359v7M484 364.5h7M487.5 361v7M421 356.5h7M424.5 353v7M411 353.5h7M414.5 350v7M447 365.5h7M450.5 362v7M475 370.5h7M478.5 367v7M483 372.5h7M486.5 369v7M497 334.5h7M500.5 331v7M494 337.5h7M497.5 334v7M503 334.5h7M506.5 331v7M495 343.5h7M498.5 340v7M513 339.5h7M516.5 336v7M511 337.5h7M514.5 334v7M512 361.5h7M515.5 358v7M528 344.5h7M531.5 341v7M527 350.5h7M530.5 347v7M530 360.5h7M533.5 357v7M529 364.5h7M532.5 361v7M532 363.5h7M535.5 360v7M545 336.5h7M548.5 333v7M552 337.5h7M555.5 334v7M550 342.5h7M553.5 339v7M539 333.5h7M542.5 330v7M546 356.5h7M549.5 353v7M547 359.5h7M550.5 356v7M549 355.5h7M552.5 352v7M548 362.5h7M551.5 359v7M549 367.5h7M552.5 364v7M485 360.5h7M488.5 357v7M488 356.5h7M491.5 353v7M492 366.5h7M495.5 363v7M302 320.5h7M305.5 317v7M309 321.5h7M312.5 318v7M315 324.5h7M318.5 321v7M321 325.5h7M324.5 322v7M319 327.5h7M322.5 324v7M297 325.5h7M300.5 322v7M307 327.5h7M310.5 324v7M323 321.5h7M326.5 318v7M281 318.5h7M284.5 315v7M284 320.5h7M287.5 317v7M283 322.5h7M286.5 319v7M255 303.5h7M258.5 300v7M252 305.5h7M255.5 302v7M248 308.5h7M251.5 305v7M259 328.5h7M262.5 325v7M328 295.5h7M331.5 292v7M330 296.5h7M333.5 293v7M346 305.5h7M349.5 302v7M347 317.5h7M350.5 314v7M331 325.5h7M334.5 322v7M335 328.5h7M338.5 325v7M359 325.5h7M362.5 322v7M364 322.5h7M367.5 319v7M351 327.5h7M354.5 324v7M349 325.5h7M352.5 322v7M339 327.5h7M342.5 324v7M398 319.5h7M401.5 316v7M397 325.5h7M400.5 322v7M400 314.5h7M403.5 311v7M429 291.5h7M432.5 288v7M415 306.5h7M418.5 303v7M432 307.5h7M435.5 304v7M463 318.5h7M466.5 315v7M459 310.5h7M462.5 307v7M406 327.5h7M409.5 324v7M419 328.5h7M422.5 325v7M431 326.5h7M434.5 323v7M446 328.5h7M449.5 325v7M453 325.5h7M456.5 322v7M461 326.5h7M464.5 323v7M469 326.5h7M472.5 323v7M481 326.5h7M484.5 323v7M484 327.5h7M487.5 324v7M444 313.5h7M447.5 310v7M519 280.5h7M522.5 277v7M522 284.5h7M525.5 281v7M539 307.5h7M542.5 304v7M538 310.5h7M541.5 307v7M539 322.5h7M542.5 319v7M507 326.5h7M510.5 323v7M509 328.5h7M512.5 325v7M511 324.5h7M514.5 321v7M485 319.5h7M488.5 316v7M554 327.5h7M557.5 324v7M557 323.5h7M560.5 320v7M148 428.5h7M151.5 425v7M149 423.5h7M152.5 420v7M155 423.5h7M158.5 420v7M157 426.5h7M160.5 423v7M165 424.5h7M168.5 421v7M177 427.5h7M180.5 424v7M181 423.5h7M184.5 420v7M187 427.5h7M190.5 424v7M201 428.5h7M204.5 425v7M203 423.5h7M206.5 420v7M92 427.5h7M95.5 424v7M98 427.5h7M101.5 424v7" stroke="#9400d3" stroke-width="1" fill="none" shape-rendering="crispEdges"/>
<rect x="91.5" y="45.5" width="521.0" height="386.0" fill="none" stroke="#000" stroke-width="1" shape-rendering="crispEdges"/>
</svg>
</body></html>
